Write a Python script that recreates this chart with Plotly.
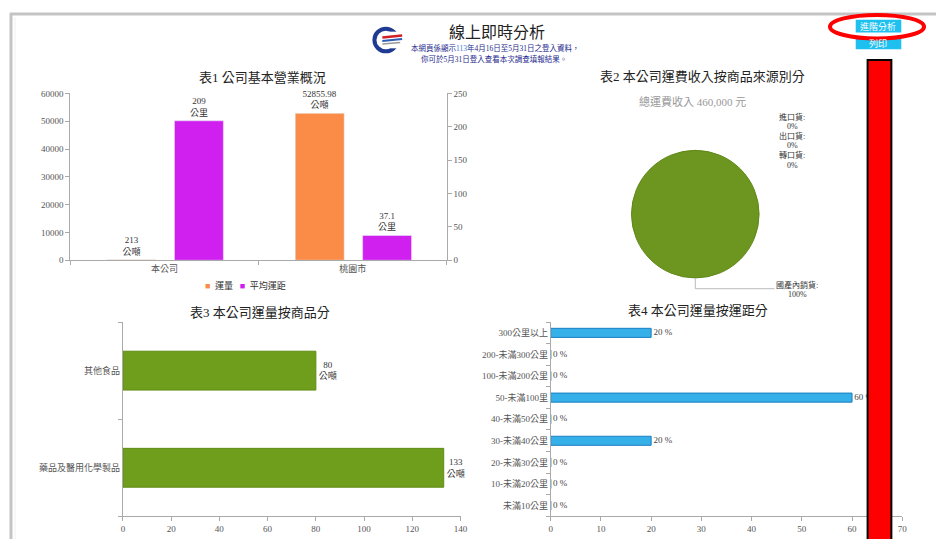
import plotly.graph_objects as go

# The page adds an 8px body margin; the figure is sized so the page is exactly 944x547.
PAGE_W, PAGE_H = 944, 547
OFF = 8
W, H = PAGE_W - 2 * OFF, PAGE_H - 2 * OFF
def px(x): return (x - OFF) / W
def py(y): return 1 - (y - OFF) / H

FONT = "Liberation Serif, Noto Sans CJK TC, serif"

# ---- data ----
t1_categories = ["本公司", "桃園市"]
t1_series = ["運量", "平均運距"]
t1_colors = ["#fb8c47", "#d020f0"]
t1_volume = [213, 52855.98]          # 運量 (公噸)
t1_volume_text = ["213", "52855.98"]
t1_distance = [209, 37.1]            # 平均運距 (公里)
t1_distance_text = ["209", "37.1"]

t2_labels = ["進口貨", "出口貨", "轉口貨", "國產內銷貨"]
t2_values = [0, 0, 0, 100]
t2_pct_text = ["0%", "0%", "0%", "100%"]
t2_total = "總運費收入 460,000 元"

t3_categories = ["藥品及醫用化學製品", "其他食品"]
t3_values = [133, 80]

t4_categories = ["未滿10公里", "10-未滿20公里", "20-未滿30公里", "30-未滿40公里",
                 "40-未滿50公里", "50-未滿100里", "100-未滿200公里",
                 "200-未滿300公里", "300公里以上"]
t4_values = [0, 0, 0, 20, 0, 60, 0, 0, 20]

fig = go.Figure()

# ---- chart 1 ----
fig.add_trace(go.Bar(
    x=t1_categories, y=t1_volume, name=t1_series[0], xaxis="x", yaxis="y",
    marker=dict(color=t1_colors[0]), width=0.26, offset=-0.305,
    text=[f"{t}<br>公噸" for t in t1_volume_text], textposition="outside",
    textfont=dict(size=9, color="#333", family=FONT), cliponaxis=False,
    constraintext="none", showlegend=False))
fig.add_trace(go.Bar(
    x=t1_categories, y=t1_distance, name=t1_series[1], xaxis="x", yaxis="y2",
    marker=dict(color=t1_colors[1]), width=0.26, offset=0.053,
    text=[f"{t}<br>公里" for t in t1_distance_text], textposition="outside",
    textfont=dict(size=9, color="#333", family=FONT), cliponaxis=False,
    constraintext="none", showlegend=False))

# ---- chart 2 ----
fig.add_trace(go.Pie(
    labels=t2_labels, values=t2_values, sort=False, direction="clockwise",
    marker=dict(colors=["#4572a7", "#aa4643", "#89a54e", "#6d9620"],
                line=dict(color="#5f8716", width=1)),
    textinfo="none", hoverinfo="label+percent", showlegend=False,
    domain=dict(x=[px(635), px(765)], y=[py(278), py(148)])))

# ---- chart 3 ----
fig.add_trace(go.Bar(
    x=t3_values, y=t3_categories, orientation="h", xaxis="x3", yaxis="y3",
    marker=dict(color="#6e9e1c", line=dict(color="#5e8c12", width=1)),
    width=0.4, showlegend=False,
    text=[f"{v}<br>公噸" for v in t3_values], textposition="outside",
    textfont=dict(size=9, color="#333", family=FONT), cliponaxis=False,
    constraintext="none"))

# ---- chart 4 ----
fig.add_trace(go.Bar(
    x=t4_values, y=t4_categories, orientation="h", xaxis="x4", yaxis="y4",
    marker=dict(color="#36b0e8", line=dict(color="#1b7fc2", width=1)),
    width=0.42, showlegend=False))
fig.add_trace(go.Scatter(
    x=t4_values, y=t4_categories, mode="text", xaxis="x4", yaxis="y4",
    text=[f"\u00a0{v} %" for v in t4_values], textposition="middle right",
    textfont=dict(size=9, color="#444", family=FONT), cliponaxis=False,
    showlegend=False, hoverinfo="skip"))

axis_common = dict(showgrid=False, zeroline=False, showline=True,
                   linecolor="#aaaaaa", linewidth=1, ticks="outside",
                   tickcolor="#aaaaaa", ticklen=4,
                   tickfont=dict(size=9, color="#555", family=FONT))

fig.update_layout(
    width=W, height=H, margin=dict(l=0, r=0, t=0, b=0),
    paper_bgcolor="white", plot_bgcolor="white",
    barmode="group", showlegend=False,
    font=dict(family=FONT),
    xaxis=dict(domain=[px(69), px(449)], anchor="y", type="category",
               tickson="boundaries", **axis_common),
    yaxis=dict(domain=[py(260), py(90)], anchor="x", range=[0, 60000],
               dtick=10000, tickformat="d", **axis_common),
    yaxis2=dict(overlaying="y", side="right", anchor="x", range=[0, 250],
                dtick=50, **axis_common),
    xaxis3=dict(domain=[px(122), px(463)], anchor="y3", range=[0, 140],
                dtick=20, **axis_common),
    yaxis3=dict(domain=[py(521), py(323)], anchor="x3", type="category",
                tickson="boundaries", **axis_common),
    xaxis4=dict(domain=[px(554), px(909)], anchor="y4", range=[0, 70],
                dtick=10, **axis_common),
    yaxis4=dict(domain=[py(521), py(323)], anchor="x4", type="category",
                tickson="boundaries", **axis_common),
)

ann = []
def text(x, y, s, size=9, color="#333", xanchor="center"):
    ann.append(dict(x=px(x), y=py(y), xref="paper", yref="paper", text=s,
                    showarrow=False, xanchor=xanchor, yanchor="middle",
                    font=dict(size=size, color=color, family=FONT)))

# header
text(500, 28, "線上即時分析", size=16, color="#222")
text(498, 44, "本網頁係顯示<span style='color:#3a7ad8'>113</span>年4月16日至5月31日之登入資料，",
     size=7.5, color="#1e2a8c")
text(497, 55, "你可於5月31日登入查看本次調查填報結果。", size=7.5, color="#1e2a8c")

# titles
text(263, 74, "表1 公司基本營業概況", size=13, color="#222")
text(707, 73, "表2 本公司運費收入按商品來源別分", size=13, color="#222")
text(260, 313, "表3 本公司運量按商品分", size=13, color="#222")
text(703, 311, "表4 本公司運量按運距分", size=13, color="#222")
text(697, 98, t2_total, size=11, color="#999")

# chart 1 legend
NB = "\u00a0"
legend_txt = (NB * 3).join(f"<span style='color:{c}'>■</span>{NB * 2}{s}"
                           for s, c in zip(t1_series, t1_colors))
text(246, 286, legend_txt, size=9, color="#333")

# pie labels
pie_label_pos = [(798, 114), (798, 133), (798, 153), (803, 285)]
for lab, pct, (lx, ly) in zip(t2_labels, t2_pct_text, pie_label_pos):
    text(lx, ly, f"{lab}:", size=8, color="#333")
    text(lx, ly + 10, pct, size=8, color="#333")

# buttons
text(885, 21.5, "進階分析", size=9, color="white")
text(885, 39, "列印", size=9, color="white")

fig.update_layout(annotations=ann)

shapes = []
def rect(x0, y0, x1, y1, **kw):
    shapes.append(dict(type="rect", xref="paper", yref="paper",
                       x0=px(x0), x1=px(x1), y0=py(y1), y1=py(y0), **kw))
def line(x0, y0, x1, y1, **kw):
    shapes.append(dict(type="line", xref="paper", yref="paper",
                       x0=px(x0), x1=px(x1), y0=py(y0), y1=py(y1), **kw))

# page frame
line(8, 9, 944, 9, line=dict(color="#c4c4c4", width=3))
line(9, 8, 9, 547, line=dict(color="#c4c4c4", width=3))
line(13, 12, 13, 547, line=dict(color="#f0f0f0", width=1))

# logo
shapes.append(dict(type="circle", xref="paper", yref="paper",
                   x0=px(376), x1=px(399), y0=py(47), y1=py(24),
                   line=dict(color="#1f3a93", width=4), fillcolor="rgba(0,0,0,0)"))
rect(391, 27, 404, 44, fillcolor="white", line=dict(width=0))
line(384, 33, 404, 31, line=dict(color="#d0202a", width=2.5))
line(384, 36.5, 404, 34.5, line=dict(color="#2a5cb8", width=2))
line(384, 39.5, 402, 38, line=dict(color="#999999", width=1.5))

# pie leader line
line(700, 278, 700, 289, line=dict(color="#bbbbbb", width=1))
line(700, 289, 780, 289, line=dict(color="#bbbbbb", width=1))

# buttons
rect(862, 15, 908, 28, fillcolor="#1ec0f0", line=dict(width=0))
rect(862, 33, 908, 45, fillcolor="#1ec0f0", line=dict(width=0))
shapes.append(dict(type="circle", xref="paper", yref="paper",
                   x0=px(836), x1=px(931), y0=py(34), y1=py(10),
                   line=dict(color="#ff0000", width=4), fillcolor="rgba(0,0,0,0)"))

# red bar
rect(874, 56, 898, 570, fillcolor="#ff0000", line=dict(color="#000000", width=2))

fig.update_layout(shapes=shapes)

fig.write_html("out.html", config={"displayModeBar": False})
